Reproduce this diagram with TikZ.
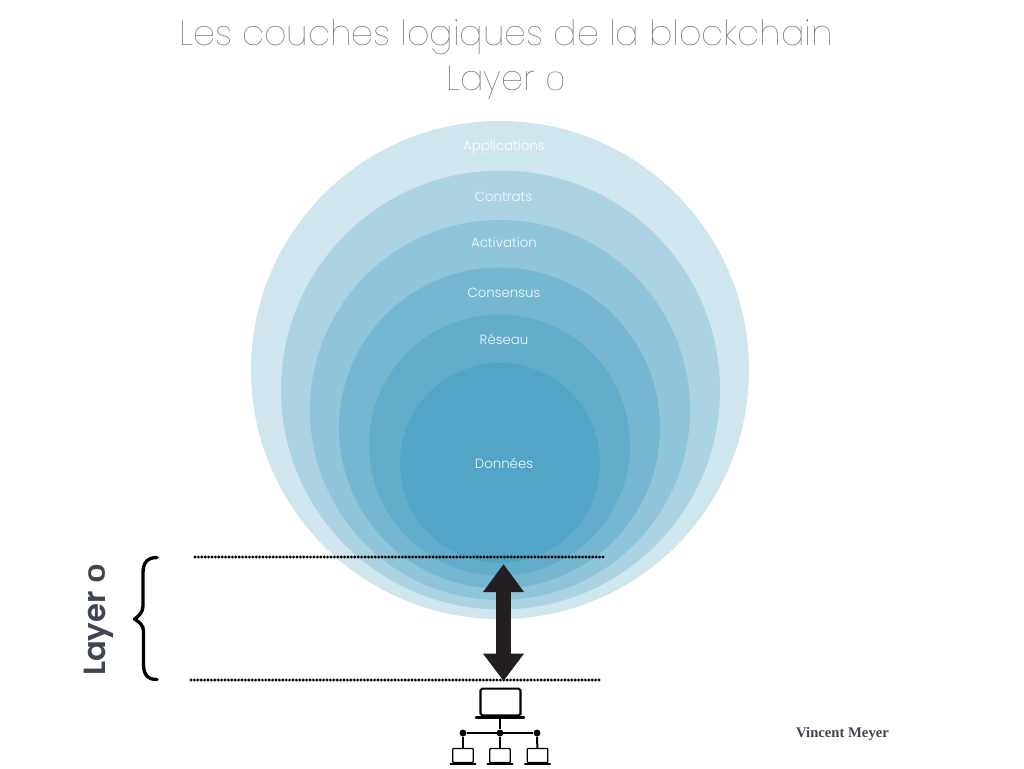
\documentclass[tikz,border=0pt]{standalone}
\usepackage{fontspec}
\usepackage{graphicx}
\usetikzlibrary{arrows.meta}
\setmainfont{Poppins}
\newfontfamily\thinf{Poppins Thin}
\newfontfamily\lightf{Poppins Light}
\newfontfamily\boldf{Poppins SemiBold}
\newfontfamily\serif{Liberation Serif}[Scale=1]
\definecolor{c1}{HTML}{D0E6EF}
\definecolor{c2}{HTML}{ACD3E2}
\definecolor{c3}{HTML}{8FC5DA}
\definecolor{c4}{HTML}{75B7D1}
\definecolor{c5}{HTML}{62ADCB}
\definecolor{c6}{HTML}{52A5C7}
\definecolor{ttl}{HTML}{666666}
\definecolor{dk}{HTML}{3F4650}
\definecolor{arr}{HTML}{231F20}
\definecolor{labc}{HTML}{F2FAFC}
\tikzset{
  disc/.style={circle,inner sep=0pt,minimum size=#1*0.75pt},
  lab/.style={text=labc,font=\lightf\fontsize{10}{12}\selectfont,inner sep=0pt,anchor=center},
  ttlnode/.style={text=ttl,font=\thinf\fontsize{26.2}{30}\selectfont,inner sep=0pt,anchor=center},
  dotline/.style={line width=2.4pt,line cap=round,dash pattern=on 0pt off 2.55pt,black},
  dblarrow/.style={line width=11.25pt,arr,{Triangle[length=21pt,width=29.25pt,sep=0pt]}-{Triangle[length=20.5pt,width=29.25pt,sep=0pt]}},
  bigscreen/.style={draw=black,line width=1.6pt,rounded corners=1.2pt,inner sep=0pt,minimum width=30pt,minimum height=20pt},
  smallscreen/.style={draw=black,line width=0.9pt,rounded corners=.6pt,inner sep=0pt,minimum width=15.5pt,minimum height=10.5pt},
  junction/.style={circle,fill=black,inner sep=0pt,minimum size=5.2pt},
  netline/.style={line width=1.5pt,black},
  baseline/.style={line width=1.1pt,black,line cap=round}
}
\begin{document}
\begin{tikzpicture}[x=0.75pt,y=-0.75pt]
\useasboundingbox (0,0) rectangle (1024,768);
\fill[white] (0,0) rectangle (1024,768);
\node[ttlnode] (t1) at (506,37) {Les couches logiques de la blockchain};
\node[ttlnode] (t2) at (506,83) {Layer \scalebox{1}[0.74]{0}};
\node[disc=498,fill=c1] (d1) at (500,370) {};
\node[disc=439,fill=c2] (d2) at (500.5,390) {};
\node[disc=380,fill=c3] (d3) at (500,410) {};
\node[disc=321,fill=c4] (d4) at (499.5,428) {};
\node[disc=261,fill=c5] (d5) at (499.5,445) {};
\node[disc=200,fill=c6] (d6) at (500,463) {};
\node[lab,text=white] (l1) at (504,147.5) {Applications};
\node[lab] (l2) at (503.5,196.5) {Contrats};
\node[lab] (l3) at (504,242.5) {Activation};
\node[lab] (l4) at (504,292.5) {Consensus};
\node[lab] (l5) at (504,339.5) {Réseau};
\node[lab] (l6) at (504,463.5) {Données};
\coordinate (a1) at (195,557); \coordinate (a2) at (604,557);
\coordinate (b1) at (191,680); \coordinate (b2) at (600,680);
\draw[dotline] (a1) -- (a2);
\draw[dotline] (b1) -- (b2);
\coordinate (up) at (503.5,564); \coordinate (dn) at (503.5,681);
\draw[dblarrow] (up) -- (dn);
\draw[line width=2.5pt,black,line cap=round,line join=round]
  (157,557.5) .. controls (147,557.5) and (143,563) .. (143,573)
  -- (143,606) .. controls (143,612) and (139,616) .. (134.5,619)
  .. controls (139,622) and (143.5,625) .. (143.5,631)
  -- (143.5,664) .. controls (143.5,674) and (147,679.5) .. (157,679.5);
\node[rotate=90,text=dk,font=\boldf\fontsize{23}{28}\selectfont,inner sep=0pt,anchor=center] (lay) at (99,620) {Layer \scalebox{1}[0.74]{0}};
\node[text=dk,font=\serif\bfseries\fontsize{11}{13}\selectfont,inner sep=0pt,anchor=center] (vm) at (842.5,734) {Vincent Meyer};
\node[bigscreen] (pc) at (500.5,702) {};
\coordinate (pcb1) at (476,717.5); \coordinate (pcb2) at (524,717.5);
\draw[line width=1.8pt,black,line cap=round] (pcb1) -- (pcb2);
\node[junction] (j1) at (463,733) {};
\node[junction] (j2) at (500,733) {};
\node[junction] (j3) at (537,733) {};
\draw[netline] (j1) -- (j3);
\draw[netline] (pcb1 -| j2) -- (j2);
\node[smallscreen] (s1) at (463,755.5) {};
\node[smallscreen] (s2) at (500,755.5) {};
\node[smallscreen] (s3) at (537.5,755.5) {};
\draw[netline] (j1) -- (s1);
\draw[netline] (j2) -- (s2);
\draw[netline] (j3) -- (s3);
\foreach \n in {s1,s2,s3}{
  \draw[baseline] ([xshift=-9.5pt,yshift=-6.3pt]\n.center) -- ([xshift=9.5pt,yshift=-6.3pt]\n.center);
}
\end{tikzpicture}
\end{document}
